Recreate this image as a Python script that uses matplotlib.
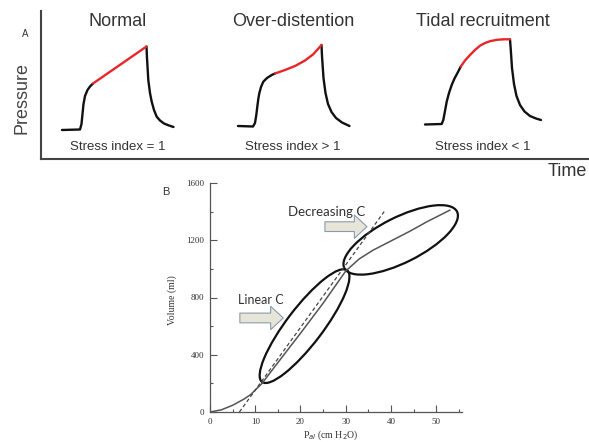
import numpy as np
import matplotlib.pyplot as plt
from matplotlib.patches import Ellipse
from matplotlib.transforms import Affine2D

# ---- panel A: pressure waveforms (time / pressure, arbitrary units) ----
titles = ["Normal", "Over-distention", "Tidal recruitment"]
title_t = [76.7, 252, 442]
stress_labels = ["Stress index = 1", "Stress index > 1", "Stress index < 1"]

norm_rise_t = [21, 39, 40.5, 41.5, 42.5, 44, 46.5, 49, 52]
norm_rise_p = [29, 29.5, 35, 45, 55, 63, 69, 72.5, 75.5]
norm_red_t = [52, 105.5]
norm_red_p = [75.5, 112.5]
norm_drop_t = [105.5, 106, 107.3, 109, 110.7, 113, 115.7, 119, 123, 128, 132.5]
norm_drop_p = [112.5, 101, 79, 66, 57.3, 49, 42.3, 38.5, 35.5, 33.5, 32]

over_rise_t = [197, 212, 214, 215.3, 216.3, 217.3, 218.3, 220, 222.3, 226, 230.7, 234]
over_rise_p = [33, 32.5, 36, 44, 52.3, 60, 65.7, 72, 77.3, 81, 84, 85.5]
over_red_t = [234, 244, 254, 264, 272, 277, 280.5]
over_red_p = [85.5, 89, 93, 98.5, 104.5, 110, 114]
over_drop_t = [280.5, 281, 282.5, 284.5, 287, 290.5, 295, 301, 308.5]
over_drop_p = [114, 103, 81, 66, 55, 47, 41, 36.5, 33]

tidal_rise_t = [384, 400.7, 402.3, 404, 405.7, 408, 410.7, 413.5, 416.3, 419.7]
tidal_rise_p = [34.5, 35, 39, 48, 57.3, 66, 74, 80.5, 85.7, 92.3]
tidal_red_t = [419.7, 424, 429, 434, 439, 444, 449, 456, 463, 469]
tidal_red_p = [92.3, 98.5, 104, 109, 113.3, 116, 117.8, 119.2, 119.7, 119.7]
tidal_drop_t = [469, 469.8, 471, 473, 475.5, 479, 483.5, 489, 495, 500]
tidal_drop_p = [119.7, 109, 91, 75, 63, 54, 47.5, 43, 40.5, 39]

# ---- panel B: pressure-volume loops ----
sig_p = [0, 2.5, 5, 7.5, 9, 11.5, 15, 20, 25, 30, 33, 36, 40, 44, 48, 53]
sig_v = [0, 15, 47, 90, 122, 200, 345, 550, 760, 985, 1070, 1130, 1195, 1260, 1330, 1410]
dash_p = [6.5, 38.5]
dash_v = [0, 1400]
loop_tips = [((11.5, 210), (30.3, 990)), ((29.7, 1005), (54.6, 1400))]
loop_halfwidth = [4.0, 5.0]

fig = plt.figure(figsize=(5.89, 4.42), dpi=100)
fig.patch.set_facecolor("white")

red = "#e8262a"
txt = "#333333"

axA = fig.add_axes([41 / 589, (442 - 159) / 442, 548 / 589, 148 / 442])
axA.set_xlim(0, 548)
axA.set_ylim(0, 148)
for s in ["top", "right"]:
    axA.spines[s].set_visible(False)
for s in ["left", "bottom"]:
    axA.spines[s].set_color("#444444")
    axA.spines[s].set_linewidth(1.5)
axA.set_xticks([])
axA.set_yticks([])

kw = dict(color="#111111", lw=1.7, solid_capstyle="round", solid_joinstyle="round")
kr = dict(color=red, lw=1.7, solid_capstyle="round")
for rt, rp, et, ep, dt, dp in [
    (norm_rise_t, norm_rise_p, norm_red_t, norm_red_p, norm_drop_t, norm_drop_p),
    (over_rise_t, over_rise_p, over_red_t, over_red_p, over_drop_t, over_drop_p),
    (tidal_rise_t, tidal_rise_p, tidal_red_t, tidal_red_p, tidal_drop_t, tidal_drop_p),
]:
    axA.plot(rt, rp, **kw)
    axA.plot(dt, dp, **kw)
    axA.plot(et, ep, **kr)

for t, title, lab in zip(title_t, titles, stress_labels):
    axA.text(t, 137.3, title, ha="center", va="center", fontsize=13,
             family="Liberation Sans", color=txt)
    axA.text(t, 12, lab, ha="center", va="center", fontsize=9.5,
             family="Liberation Sans", color=txt)

axA.text(-0.035, 0.41, "Pressure", transform=axA.transAxes, rotation=90,
         ha="center", va="center", fontsize=13, family="Liberation Sans", color="#444444")
axA.text(0.997, -0.086, "Time", transform=axA.transAxes, ha="right", va="center",
         fontsize=13, family="Liberation Sans", color=txt, clip_on=False)
axA.text(-0.029, 0.845, "A", transform=axA.transAxes, ha="center", va="center",
         fontsize=7, family="Liberation Sans", color=txt)

# ---- panel B ----
axB = fig.add_axes([210 / 589, 30 / 442, 252 / 589, 229 / 442])
axB.set_xlim(0, 55.7)
axB.set_ylim(0, 1600)
for s in ["top", "right"]:
    axB.spines[s].set_visible(False)
for s in ["left", "bottom"]:
    axB.spines[s].set_color("#555555")
    axB.spines[s].set_linewidth(0.9)
axB.set_xticks([0, 10, 20, 30, 40, 50])
axB.set_xticks([5, 15, 25, 35, 45, 55], minor=True)
axB.set_yticks([0, 400, 800, 1200, 1600])
axB.set_yticks([200, 600, 1000, 1400], minor=True)
axB.tick_params(which="both", direction="in", width=0.8, colors="#555555",
                labelcolor=txt, labelsize=6.5, pad=4)
axB.tick_params(which="major", length=5)
axB.tick_params(which="minor", length=2.5)
for lbl in axB.get_xticklabels() + axB.get_yticklabels():
    lbl.set_family("Liberation Serif")

axB.plot(sig_p, sig_v, color="#555555", lw=1.1)
axB.plot(dash_p, dash_v, color="#444444", lw=0.9, ls=(0, (3, 2)))

# isotropic frame for loops
pos = axB.get_position()
xpx = pos.width * 589 / 55.7
ypx = pos.height * 442 / 1600
k = ypx / xpx
iso = Affine2D().scale(1, 1 / k) + axB.transData
for (a, b), hw in zip(loop_tips, loop_halfwidth):
    x0, y0 = a[0], a[1] * k
    x1, y1 = b[0], b[1] * k
    L = np.hypot(x1 - x0, y1 - y0)
    ang = np.degrees(np.arctan2(y1 - y0, x1 - x0))
    e = Ellipse(((x0 + x1) / 2, (y0 + y1) / 2), L, 2 * hw, angle=ang,
                transform=iso, fill=False, ec="#111111", lw=1.6)
    axB.add_patch(e)

arrow = dict(arrowstyle="simple,head_length=0.65,head_width=1.2,tail_width=0.5",
             mutation_scale=14, fc="#e7e5d7", ec="#8a9bb0", lw=0.8,
             shrinkA=0, shrinkB=0)
axB.annotate("", xy=(16.2, 657), xytext=(6.6, 657), arrowprops=arrow)
axB.annotate("", xy=(34.7, 1295), xytext=(25.4, 1295), arrowprops=arrow)
axB.text(6.2, 783, "Linear C", ha="left", va="center", fontsize=9,
         family="Lato", color=txt)
axB.text(17.3, 1398, "Decreasing C", ha="left", va="center", fontsize=9.5,
         family="Lato", color=txt)

axB.text(-0.15, 0.49, "Volume (ml)", transform=axB.transAxes, rotation=90,
         ha="center", va="center", fontsize=7, family="Liberation Serif", color=txt)
axB.text(0.48, -0.10, r"P$_{al}$ (cm H$_2$O)", transform=axB.transAxes,
         ha="center", va="center", fontsize=7, family="Liberation Serif", color=txt)
fig.text(166 / 589, 1 - 192 / 442, "B", ha="center", va="center", fontsize=8,
         family="Liberation Sans", color=txt)

fig.savefig("out.png", dpi=100)
